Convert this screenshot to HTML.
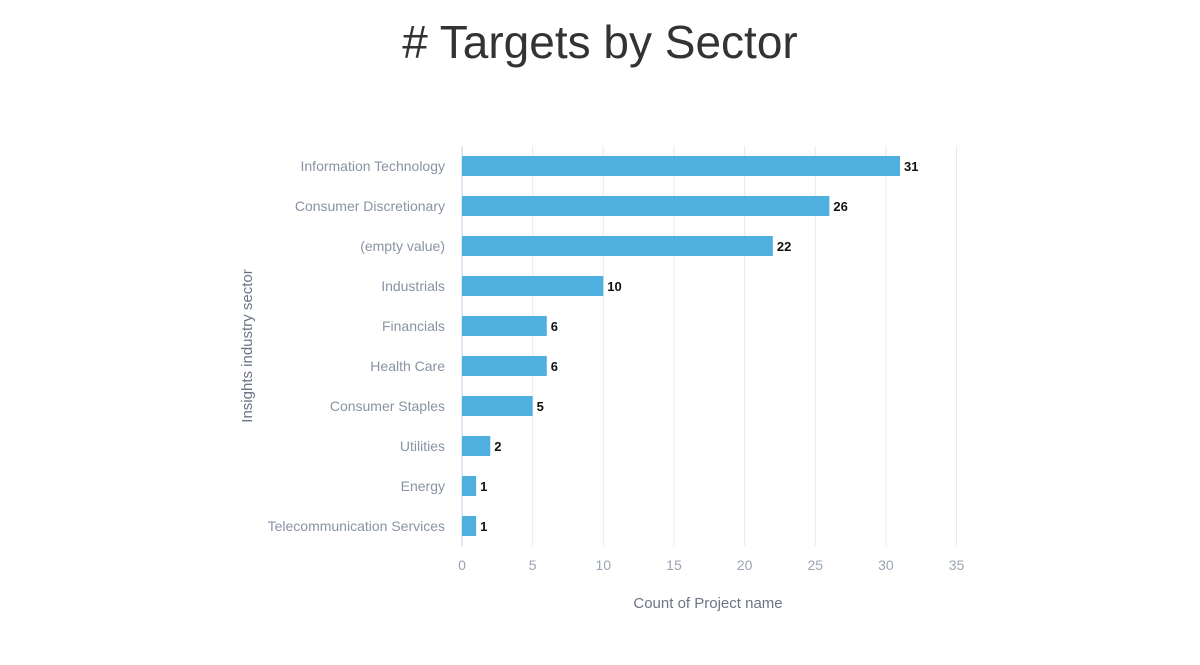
<!DOCTYPE html>
<html><head><meta charset="utf-8"><style>
body{margin:0;background:#fff;width:1200px;height:660px;overflow:hidden;font-family:"Liberation Sans",sans-serif}
</style></head><body>
<svg width="1200" height="660">
<text x="600" y="58" text-anchor="middle" font-size="46" fill="#333" font-family="Liberation Sans, sans-serif"># Targets by Sector</text>
<g id="grid"></g><g id="bars"></g><g id="labels"></g>
<text x="252" y="346" transform="rotate(-90 252 346)" text-anchor="middle" font-size="15" fill="#6b7585">Insights industry sector</text>
<text x="708" y="608" text-anchor="middle" font-size="15" fill="#6b7585">Count of Project name</text>
</svg>
<script>
const categories=["Information Technology","Consumer Discretionary","(empty value)","Industrials","Financials","Health Care","Consumer Staples","Utilities","Energy","Telecommunication Services"];
const values=[31,26,22,10,6,6,5,2,1,1];
const ticks=[0,5,10,15,20,25,30,35];
const NS="http://www.w3.org/2000/svg";
const x0=462,scale=14.13,top0=146,step=40,bh=20;
const X=v=>x0+v*scale, Yc=i=>top0+step*i+step/2;
const grid=document.getElementById('grid'),bars=document.getElementById('bars'),labels=document.getElementById('labels');
function mk(tag,attrs,parent){const e=document.createElementNS(NS,tag);for(const k in attrs)e.setAttribute(k,attrs[k]);parent.appendChild(e);return e;}
ticks.forEach(t=>{
 const l=mk('line',{x1:X(t),x2:X(t),y1:top0,y2:top0+step*categories.length,stroke:t===0?'#c5cde0':'#e6e9ef','stroke-width':1},grid);
 
 
 const tx=mk('text',{x:X(t),y:570,'text-anchor':'middle','font-size':14,fill:'#9aa3b2'},grid);
 tx.textContent=t;
 
 
});
categories.forEach((c,i)=>{
 const r=mk('rect',{x:X(0),y:Yc(i)-bh/2,width:X(values[i])-X(0),height:bh,fill:'#4fb0df'},bars);
 
 
 const v=mk('text',{x:X(values[i])+4,y:Yc(i)+5,'font-size':13,'font-weight':'bold',fill:'#111'},labels);
 v.textContent=values[i];
 
 
 const lb=mk('text',{x:445,y:Yc(i)+5,'text-anchor':'end','font-size':14,fill:'#8893a4'},labels);
 lb.textContent=c;
 
 
});
</script>
</body></html>
